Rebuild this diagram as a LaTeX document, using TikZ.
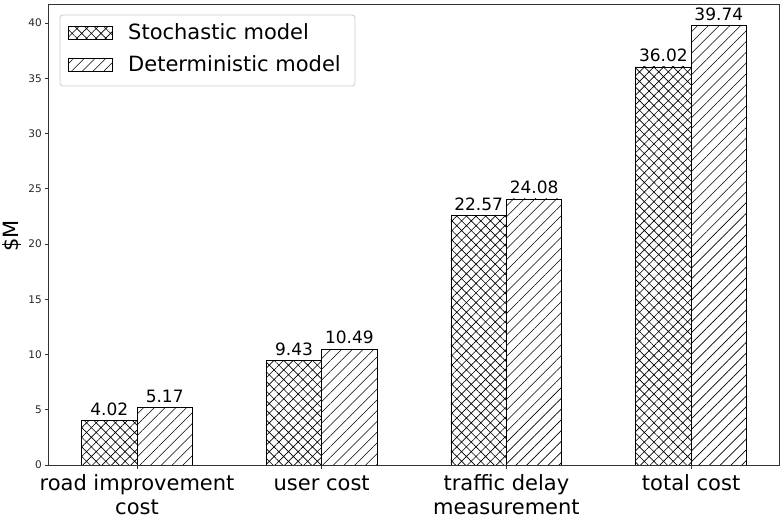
\documentclass[tikz,border=0pt]{standalone}
\usepackage{fontspec}
\setmainfont{DejaVu Sans}
\usetikzlibrary{patterns.meta}
\begin{document}
\begin{tikzpicture}[x=1pt,y=-1pt,
  stochbar/.style={draw=black, line width=0.8pt,
    pattern={Hatch[angle=45,distance=6.8pt,line width=0.65pt]}, pattern color=black},
  detbar/.style={draw=black, line width=0.8pt,
    pattern={Lines[angle=45,distance=7.6pt,line width=0.6pt]}, pattern color=black},
  barlabel/.style={anchor=base, inner sep=0pt, font=\fontsize{17}{20}\selectfont},
  ticklabel/.style={anchor=east, inner sep=0pt, font=\fontsize{10.5}{12}\selectfont, text=black!85},
  catlabel/.style={anchor=north, inner sep=0pt, align=center, font=\fontsize{21}{23.5}\selectfont},
  legendtext/.style={anchor=base west, inner sep=0pt, font=\fontsize{21}{24}\selectfont},
  spine/.style={line width=0.8pt, draw=black!80},
  tickmark/.style={line width=0.8pt, draw=black!80}]
\useasboundingbox (0,0) rectangle (781,519);

% bars and their value labels, in data coordinates
\begin{scope}[xshift=137pt, yshift=-465pt, x=184.7pt, y=11.05pt]
  \foreach \i/\s/\d in {0/4.02/5.17, 1/9.43/10.49, 2/22.57/24.08, 3/36.02/39.74} {
    \draw[stochbar] (\i-0.3,0) rectangle (\i,\s);
    \draw[detbar] (\i,0) rectangle (\i+0.3,\d);
    \node[barlabel] (s\i) at ([yshift=5.5pt]\i-0.15,\s) {\s};
    \node[barlabel] (d\i) at ([yshift=5.5pt]\i+0.15,\d) {\d};
  }
\end{scope}

% axes frame
\draw[spine] (48.3,4) rectangle (779.8,465);

% y ticks and labels
\foreach \v in {0,5,...,40} {
  \draw[tickmark] (44.8,{465-11.05*\v}) -- (48.3,{465-11.05*\v});
  \node[ticklabel] (t\v) at (42,{465-11.05*\v}) {\v};
}

% x ticks
\foreach \i in {0,1,2,3} {
  \draw[tickmark] ({137+184.7*\i},465) -- ({137+184.7*\i},468.5);
}

% category labels
\node[catlabel] (c0) at (137,474.5) {\vphantom{d}road improvement\\cost};
\node[catlabel] (c1) at (321.7,474.5) {\vphantom{d}user cost};
\node[catlabel] (c2) at (506.4,474.5) {\vphantom{d}traffic delay\\measurement};
\node[catlabel] (c3) at (691.1,474.5) {\vphantom{d}total cost};

% y axis title
\node[rotate=90, inner sep=0pt, font=\fontsize{21}{24}\selectfont] (ylab) at (12,236) {\$M};

% legend
\draw[draw=black!20, fill=white, fill opacity=0.8, line width=0.8pt, rounded corners=3pt]
  (60,15) rectangle (355,86);
\draw[stochbar] (68,26.5) rectangle (112,39.5);
\draw[detbar] (68,58.5) rectangle (112,71.5);
\node[legendtext] (l1) at (128,39.5) {Stochastic model};
\node[legendtext] (l2) at (128,71.5) {Deterministic model};
\end{tikzpicture}
\end{document}
